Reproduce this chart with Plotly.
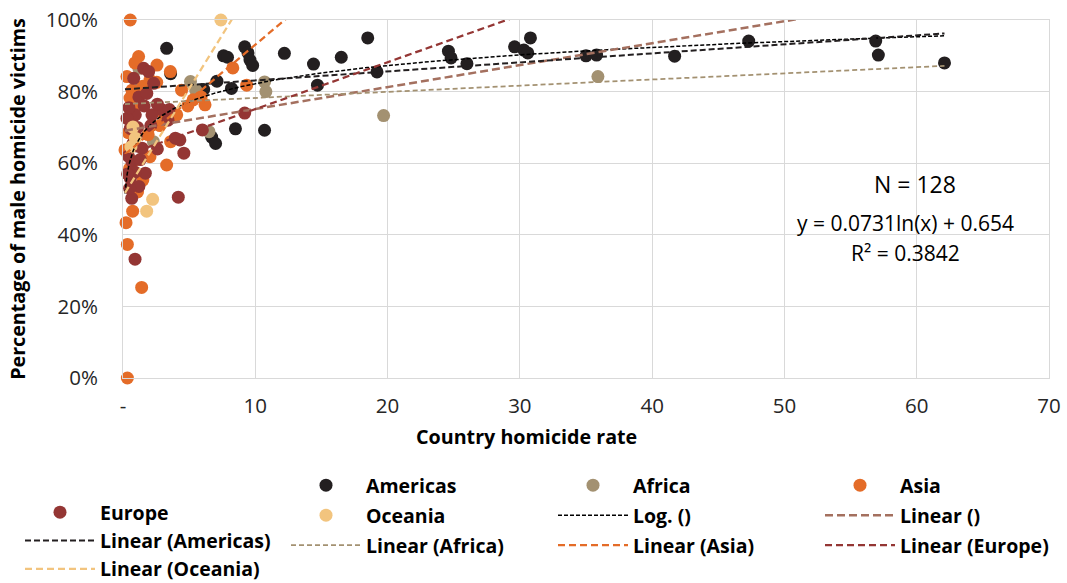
import numpy as np
import plotly.graph_objects as go

# ---------------- data (country homicide rate, % male victims) ----------------
americas_x = [3.3, 3.6, 6.1, 6.7, 7.0, 7.1, 7.6, 7.9, 8.2, 8.5, 9.2, 9.45, 9.6, 9.8, 10.7,
              12.2, 14.4, 14.7, 16.5, 18.5, 19.2, 24.6, 24.8, 26.0, 29.6, 30.3, 30.6, 30.8,
              35.0, 35.8, 41.7, 47.3, 56.9, 57.1, 62.1]
americas_y = [92.1, 85.0, 80.6, 67.3, 65.5, 82.9, 90.0, 89.6, 80.9, 69.6, 92.5, 90.8, 88.8, 87.3, 69.2,
              90.7, 87.7, 81.8, 89.6, 95.0, 85.5, 91.3, 89.4, 87.8, 92.5, 91.6, 90.8, 95.0,
              90.0, 90.2, 89.9, 94.1, 94.1, 90.2, 88.0]

africa_x = [1.2, 1.1, 2.3, 5.1, 5.5, 6.5, 10.7, 10.8, 19.7, 35.9]
africa_y = [86.5, 80.4, 66.0, 82.8, 80.4, 68.8, 82.7, 80.0, 73.3, 84.2]

asia_x = [0.55, 0.33, 0.33, 0.23, 0.73, 1.41, 1.18, 2.57, 3.58, 0.3, 0.68, 0.53, 2.04, 4.43,
          5.3, 6.2, 9.35, 8.3, 4.06, 0.15, 2.04, 3.3, 1.5, 0.53, 2.55, 1.5, 1.0, 3.0, 2.8,
          0.5, 1.1, 0.8, 5.9, 4.9, 1.9, 0.4, 3.6, 0.9]
asia_y = [100.0, 0.0, 37.3, 43.4, 46.6, 25.3, 89.8, 87.4, 85.6, 84.2, 80.4, 78.2, 83.2, 80.4,
          77.7, 76.3, 81.8, 86.6, 73.5, 63.7, 61.8, 59.5, 55.3, 72.0, 82.6, 81.5, 76.0, 74.0, 70.5,
          58.5, 52.0, 60.5, 78.5, 76.0, 68.0, 68.5, 66.0, 88.0]

europe_x = [0.91, 4.18, 0.66, 9.2, 6.0, 4.3, 4.6, 3.96, 2.95, 0.93, 2.19, 0.55, 1.44, 0.68,
            1.69, 0.55, 1.56, 1.94, 0.81, 2.32, 1.2, 1.6, 0.4, 0.9, 1.2, 0.5, 2.6, 3.4, 1.0,
            2.1, 0.3, 1.3, 0.75, 2.6, 1.8, 3.5, 0.35, 1.1, 0.45]
europe_y = [33.2, 50.5, 50.2, 74.0, 69.3, 66.5, 62.8, 67.0, 74.9, 73.5, 73.5, 69.7, 64.2, 60.4,
            57.2, 55.8, 86.5, 85.6, 83.7, 82.3, 78.5, 76.0, 62.0, 57.5, 53.5, 53.0, 76.5, 72.0, 67.5,
            70.5, 72.5, 61.0, 65.5, 64.0, 79.5, 75.0, 57.0, 70.0, 75.5]

oceania_x = [7.4, 2.24, 1.79, 0.93, 0.75, 0.6]
oceania_y = [100.0, 49.9, 46.6, 67.0, 70.1, 64.5]

# trendline coefficients
log_all = [0.0731, 0.654]          # y = a ln(x) + b
linear_all = [0.00613, 0.690]      # slope, intercept
linear_americas = [0.00252, 0.806]
linear_africa = [0.00172, 0.765]
linear_asia = [0.0311, 0.620]
linear_europe = [0.0131, 0.620]
linear_oceania = [0.0600, 0.508]

x_ticks = [0, 10, 20, 30, 40, 50, 60, 70]
x_tick_labels = ["-", "10", "20", "30", "40", "50", "60", "70"]
y_ticks = [0, 0.2, 0.4, 0.6, 0.8, 1.0]
y_tick_labels = ["0%", "20%", "40%", "60%", "80%", "100%"]

# ---------------- styling ----------------
FONT = "Open Sans"
C_AM = "#231f20"
C_AF = "#a39171"
C_AS = "#e46c28"
C_EU = "#943634"
C_OC = "#f2c47e"
C_LIN = "#a4705f"

W, H = 1067, 583
L, R, T, B = 123, 18, 20, 205

fig = go.Figure()

def pts(name, xs, ys, color, legend):
    fig.add_trace(go.Scatter(
        x=xs, y=[v / 100 for v in ys], mode="markers", name=name,
        marker=dict(color=color, size=13, line=dict(width=0)),
        cliponaxis=False, legend=legend, legendgroup=name))

pts("Americas", americas_x, americas_y, C_AM, "legend2")
pts("Africa", africa_x, africa_y, C_AF, "legend3")
pts("Asia", asia_x, asia_y, C_AS, "legend4")
pts("Europe", europe_x, europe_y, C_EU, "legend")
pts("Oceania", oceania_x, oceania_y, C_OC, "legend2")

all_x = americas_x + africa_x + asia_x + europe_x + oceania_x
xmin, xmax = min(all_x), max(all_x)

def lin(name, coef, color, width, dash, legend):
    xs = np.array([xmin, xmax])
    fig.add_trace(go.Scatter(
        x=xs, y=coef[0] * xs + coef[1], mode="lines", name=name,
        line=dict(color=color, width=width, dash=dash),
        legend=legend, legendgroup=name, hoverinfo="skip"))

xs_log = np.linspace(xmin, xmax, 400)
fig.add_trace(go.Scatter(
    x=xs_log, y=log_all[0] * np.log(xs_log) + log_all[1], mode="lines", name="Log. ()",
    line=dict(color="#000000", width=1.5, dash="4px,2px"),
    legend="legend3", legendgroup="Log. ()"))
lin("Linear ()", linear_all, C_LIN, 2.5, "8px,4px", "legend4")
lin("Linear (Americas)", linear_americas, C_AM, 2, "6px,3px", "legend")
lin("Linear (Africa)", linear_africa, C_AF, 1.75, "5px,3px", "legend2")
lin("Linear (Asia)", linear_asia, C_AS, 2.25, "7px,4px", "legend3")
lin("Linear (Europe)", linear_europe, C_EU, 2.25, "7px,4px", "legend4")
lin("Linear (Oceania)", linear_oceania, C_OC, 2.25, "7px,4px", "legend")

pw, ph = W - L - R, H - T - B
def px_x(p):
    return (p - L) / pw
def px_y(p):
    return (H - B - p) / ph

LEG_FONT = dict(family=FONT, size=19.5, color="#000000", weight="bold")
leg_common = dict(orientation="v", xanchor="left", yanchor="top", itemwidth=70,
                  bgcolor="rgba(0,0,0,0)", font=LEG_FONT)
fig.update_layout(
    legend=dict(x=px_x(20), y=px_y(493), tracegroupgap=0, **leg_common),
    legend2=dict(x=px_x(286), y=px_y(466), tracegroupgap=1.6, **leg_common),
    legend3=dict(x=px_x(553), y=px_y(466), tracegroupgap=1.6, **leg_common),
    legend4=dict(x=px_x(820), y=px_y(466), tracegroupgap=1.6, **leg_common),
)

TITLE_FONT = dict(family=FONT, size=19.7, color="#000000", weight="bold")
TICK_FONT = dict(family=FONT, size=20.5, color="#262626")
fig.update_layout(
    width=W, height=H,
    margin=dict(l=L, r=R, t=T, b=B, autoexpand=False),
    plot_bgcolor="white", paper_bgcolor="white",
    font=dict(family=FONT, color="#262626"),
    xaxis=dict(range=[0, 70], tickvals=x_ticks, ticktext=x_tick_labels,
               showgrid=True, gridcolor="#d9d9d9", gridwidth=1, zeroline=False,
               showline=True, linecolor="#d9d9d9", mirror=True,
               ticks="", ticklabelstandoff=9, tickfont=TICK_FONT),
    yaxis=dict(range=[0, 1], tickvals=y_ticks, ticktext=y_tick_labels,
               showgrid=True, gridcolor="#d9d9d9", gridwidth=1, zeroline=False,
               showline=True, linecolor="#d9d9d9", mirror=True,
               ticks="", ticklabelstandoff=20, tickfont=TICK_FONT,
               title=dict(text="Percentage of male homicide victims", standoff=14,
                          font=TITLE_FONT)),
    annotations=[
        dict(text="Country homicide rate", x=px_x(526), y=px_y(437), xref="paper", yref="paper",
             showarrow=False, xanchor="center", yanchor="middle", font=TITLE_FONT),
        dict(text="N = 128", x=px_x(915), y=px_y(184), xref="paper", yref="paper",
             showarrow=False, xanchor="center", yanchor="middle",
             font=dict(family=FONT, size=23, color="#000000")),
        dict(text="y = 0.0731ln(x) + 0.654", x=px_x(905), y=px_y(223), xref="paper", yref="paper",
             showarrow=False, xanchor="center", yanchor="middle",
             font=dict(family=FONT, size=21, color="#000000")),
        dict(text="R² = 0.3842", x=px_x(905), y=px_y(253), xref="paper", yref="paper",
             showarrow=False, xanchor="center", yanchor="middle",
             font=dict(family=FONT, size=21, color="#000000")),
    ],
)

fig.write_html("out.html", config={"displayModeBar": False},
               post_script="document.body.style.margin='0px';")
